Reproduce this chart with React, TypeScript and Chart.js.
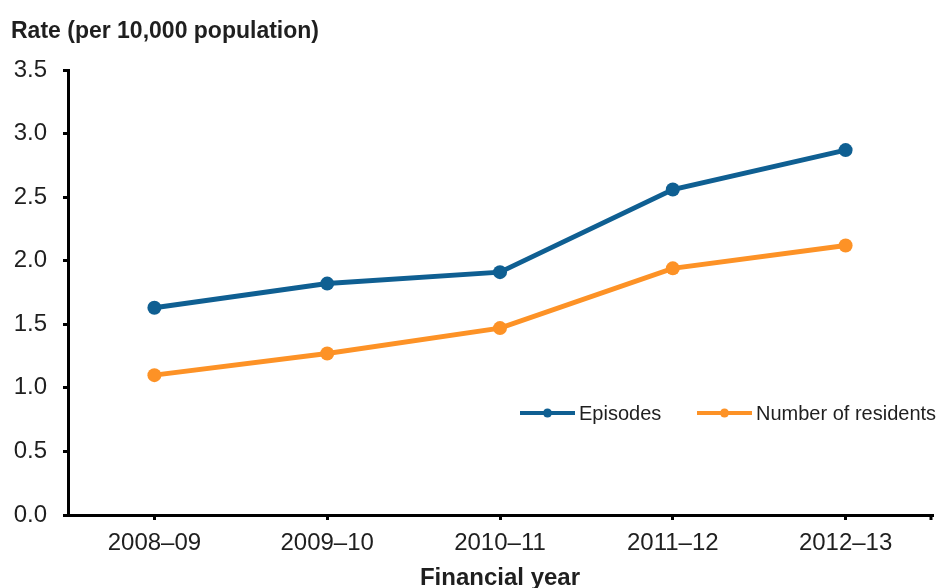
import React, { useEffect, useRef } from "react";
import { Chart, registerables } from "chart.js";

Chart.register(...registerables);

const categories = ["2008–09", "2009–10", "2010–11", "2011–12", "2012–13"];
const episodes = [1.63, 1.82, 1.91, 2.56, 2.87];
const residents = [1.1, 1.27, 1.47, 1.94, 2.12];
const seriesNames = ["Episodes", "Number of residents"];
const yTitle = "Rate (per 10,000 population)";
const xTitle = "Financial year";

const BLUE = "#0f5f92";
const ORANGE = "#fd9226";
const TEXT = "#1f1f1f";
const FONT = "'Liberation Sans', Arial, sans-serif";

const overlayPlugin = {
  id: "overlay",
  afterDraw(chart: any) {
    const ctx = chart.ctx;
    const ca = chart.chartArea;
    ctx.save();
    // y title
    ctx.fillStyle = TEXT;
    ctx.font = `bold 23px ${FONT}`;
    ctx.textAlign = "left";
    ctx.textBaseline = "alphabetic";
    ctx.fillText(yTitle, 11, 38);
    // end tick on x axis
    ctx.strokeStyle = "#000";
    ctx.lineWidth = 3;
    ctx.beginPath();
    ctx.moveTo(ca.right - 1, ca.bottom);
    ctx.lineTo(ca.right - 1, ca.bottom + 5);
    ctx.stroke();
    // legend
    const items = [
      { name: seriesNames[0], color: BLUE, x0: ca.left + 452 },
      { name: seriesNames[1], color: ORANGE, x0: ca.left + 629 },
    ];
    const ly = ca.top + 343;
    items.forEach((it) => {
      ctx.strokeStyle = it.color;
      ctx.lineWidth = 4;
      ctx.lineCap = "butt";
      ctx.beginPath();
      ctx.moveTo(it.x0, ly);
      ctx.lineTo(it.x0 + 55, ly);
      ctx.stroke();
      ctx.fillStyle = it.color;
      ctx.beginPath();
      ctx.arc(it.x0 + 27.5, ly, 4.5, 0, Math.PI * 2);
      ctx.fill();
      ctx.fillStyle = TEXT;
      ctx.font = `20px ${FONT}`;
      ctx.textAlign = "left";
      ctx.textBaseline = "alphabetic";
      ctx.fillText(it.name, it.x0 + 59, ly + 7);
    });
    ctx.restore();
  },
};

export default function App() {
  const ref = useRef<HTMLCanvasElement | null>(null);
  useEffect(() => {
    document.body.style.margin = "0";
    const canvas = ref.current;
    if (!canvas) return;
    const chart = new Chart(canvas, {
      type: "line",
      data: {
        labels: categories,
        datasets: [
          {
            label: seriesNames[0],
            data: episodes,
            borderColor: BLUE,
            backgroundColor: BLUE,
            borderWidth: 5,
            pointRadius: 7,
            pointBorderWidth: 0,
            pointBackgroundColor: BLUE,
          },
          {
            label: seriesNames[1],
            data: residents,
            borderColor: ORANGE,
            backgroundColor: ORANGE,
            borderWidth: 5,
            pointRadius: 7,
            pointBorderWidth: 0,
            pointBackgroundColor: ORANGE,
          },
        ],
      },
      options: {
        animation: false,
        responsive: false,
        maintainAspectRatio: false,
        layout: { padding: { top: 70, right: 7, left: 0, bottom: 0 } },
        plugins: {
          legend: { display: false },
          tooltip: { enabled: false },
          title: { display: false },
        },
        scales: {
          x: {
            type: "category",
            offset: true,
            afterFit: (s: any) => {
              s.height = 73;
            },
            grid: {
              offset: false,
              drawOnChartArea: false,
              drawTicks: true,
              tickLength: 5,
              lineWidth: 3,
              color: "#000",
            },
            border: { display: true, color: "#000", width: 3 },
            ticks: {
              color: TEXT,
              font: { family: FONT, size: 24 },
              padding: 9,
              maxRotation: 0,
            },
            title: {
              display: true,
              text: xTitle,
              color: TEXT,
              font: { family: FONT, size: 24, weight: "bold", lineHeight: 1 },
              padding: { top: 0, bottom: -2 },
            },
          },
          y: {
            min: 0,
            max: 3.5,
            afterFit: (s: any) => {
              s.width = 68;
            },
            grid: {
              drawOnChartArea: false,
              drawTicks: true,
              tickLength: 5,
              lineWidth: 3,
              color: "#000",
            },
            border: { display: true, color: "#000", width: 3 },
            ticks: {
              stepSize: 0.5,
              color: TEXT,
              font: { family: FONT, size: 24 },
              padding: 16,
              callback: (v: any) => Number(v).toFixed(1),
            },
          },
        },
      },
      plugins: [overlayPlugin],
    });
    return () => chart.destroy();
  }, []);
  return (
    <div style={{ width: 939, height: 588, background: "#fff" }}>
      <canvas ref={ref} width={939} height={588} style={{ display: "block" }} />
    </div>
  );
}
